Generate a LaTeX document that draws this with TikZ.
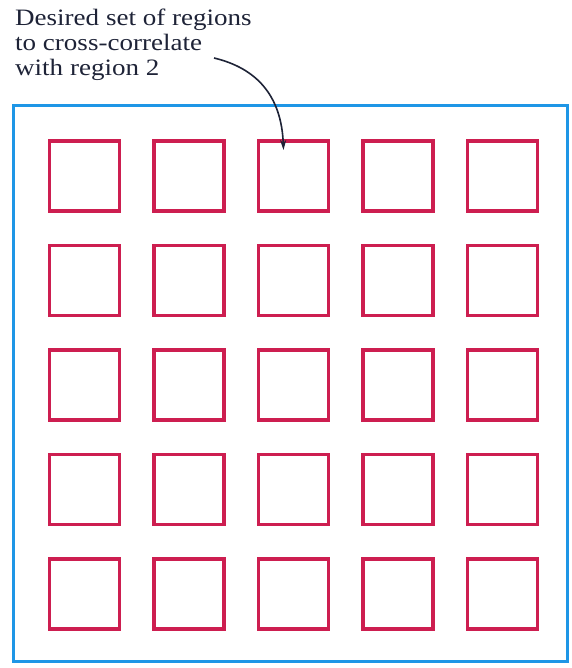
\documentclass[tikz,border=0pt]{standalone}
\usepackage{fontspec}
\setmainfont{Liberation Serif}[FakeStretch=1.15]
\usetikzlibrary{arrows.meta, positioning}
\definecolor{colFrame}  {RGB}{ 30, 150, 230}
\definecolor{colRegion} {RGB}{205,  30,  80}
\definecolor{colInk}    {RGB}{ 30,  35,  55}
\tikzset{
  framebox/.style={
    draw=colFrame, line width=3pt
  },
  regionbox/.style={
    rectangle, draw=colRegion, line width=3.2pt,
    minimum size=70pt, inner sep=0pt, outer sep=0pt
  },
  notelbl/.style={
    font=\fontsize{23.5}{25}\selectfont, text=colInk,
    align=left, inner sep=0pt
  },
  pointer/.style={
    -{Stealth[length=10pt, width=6pt]}, line width=1.6pt, color=colInk
  },
}
\begin{document}
\begin{tikzpicture}[x=1pt, y=-1pt]
\useasboundingbox (0,0) rectangle (571,668);

%% ══════════════════════════════════════════════════════════════
%%  OUTER FRAME
%% ══════════════════════════════════════════════════════════════
\draw[framebox] (13,106) rectangle (567,661);

%% ══════════════════════════════════════════════════════════════
%%  5 x 5 GRID OF REGIONS
%% ══════════════════════════════════════════════════════════════
\foreach \r in {1,...,5}{
  \foreach \c in {1,...,5}{
    \node[regionbox] (r\r\c) at ({84.5+104.5*(\c-1)}, {176+104.5*(\r-1)}) {};
  }
}

%% ── annotation ─────────────────────────────────────────────
\node[notelbl, anchor=north west] (note) at (15,9)
  {Desired set of regions\\to cross-correlate\\with region 2};
\coordinate (tail) at (214,58);
\draw[pointer] (tail) .. controls +(42,10) and +(-2,-55) .. ([xshift=-10pt, yshift=-9pt]r13.north);

\end{tikzpicture}
\end{document}
